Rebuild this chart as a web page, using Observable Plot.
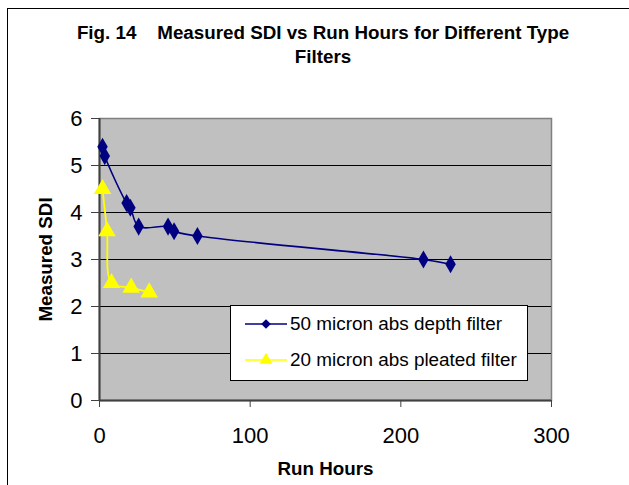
<!DOCTYPE html>
<html>
<head>
<meta charset="utf-8">
<script src="https://cdn.jsdelivr.net/npm/d3@7"></script>
<script src="https://cdn.jsdelivr.net/npm/@observablehq/plot@0.6"></script>
<style>
  body { margin: 0; background: #fff; font-family: "Liberation Sans", Arial, sans-serif; }
  #wrap { position: relative; width: 629px; height: 485px; overflow: hidden; background: #fff; }
  #frame { position: absolute; left: 7px; top: 8px; width: 700px; height: 600px; border-left: 1.5px solid #000; border-top: 1.5px solid #000; box-sizing: border-box; pointer-events: none; }
  #title { position: relative; height: 80px; box-sizing: border-box; padding-top: 21px; padding-left: 17px; text-align: center; font-weight: bold; font-size: 18.8px; line-height: 24px; white-space: pre; color: #000; }
  #legend { position: absolute; left: 230px; top: 305px; width: 298px; height: 76px; box-sizing: border-box; border: 1px solid #000; background: #fff; }
  .row { position: absolute; left: 0; height: 24px; display: flex; align-items: center; font-size: 18.9px; color: #000; white-space: nowrap; }
  .row svg { margin-left: 14px; margin-right: 3px; }
  svg.plot { display: block; }
</style>
</head>
<body>
<div id="wrap">
  <div id="title"></div>
  <div id="chart"></div>
  <div id="legend"></div>
  <div id="frame"></div>
</div>
<script>
const titleLines = ["Fig. 14    Measured SDI vs Run Hours for Different Type", "Filters"];
const xLabel = "Run Hours";
const yLabel = "Measured SDI";
const xTicks = [0, 100, 200, 300];
const yTicks = [0, 1, 2, 3, 4, 5, 6];
const gridValues = [1, 2, 3, 4, 5];

const seriesNames = ["50 micron abs depth filter", "20 micron abs pleated filter"];
const seriesColors = ["#000080", "#FFFF00"];
const seriesSymbols = ["diamond", "triangle"];

const depthHours = [2, 3.5, 18, 20.5, 26, 45.5, 49.5, 65, 215, 233];
const depthSDI   = [5.4, 5.2, 4.2, 4.1, 3.7, 3.7, 3.6, 3.5, 3.0, 2.9];
const pleatedHours = [2, 5, 8, 21, 33];
const pleatedSDI   = [4.5, 3.6, 2.5, 2.4, 2.3];

const depth = depthHours.map((h, i) => ({hours: h, sdi: depthSDI[i]}));
const pleated = pleatedHours.map((h, i) => ({hours: h, sdi: pleatedSDI[i]}));

document.getElementById("title").textContent = titleLines.join("\n");

const chart = Plot.plot({
  width: 629,
  height: 405,
  marginLeft: 99,
  marginRight: 78,
  marginTop: 38,
  marginBottom: 85,
  style: {fontFamily: "Liberation Sans, Arial, sans-serif", background: "transparent", overflow: "visible"},
  x: {domain: [0, 300]},
  y: {domain: [0, 6]},
  marks: [
    Plot.frame({fill: "#C0C0C0", stroke: "#808080", strokeWidth: 1.5}),
    Plot.gridY(gridValues, {stroke: "#000", strokeOpacity: 1, strokeWidth: 1}),
    Plot.ruleX([0], {stroke: "#404040", strokeWidth: 2}),
    Plot.ruleY([0], {stroke: "#404040", strokeWidth: 2}),
    Plot.axisY(yTicks, {tickSize: 8, tickPadding: 9, fontSize: 22, label: null, stroke: "#404040", color: "#000"}),
    Plot.axisX(xTicks, {tickSize: 7, tickPadding: 20, fontSize: 22, label: null, stroke: "#404040", color: "#000"}),
    Plot.line(depth, {x: "hours", y: "sdi", stroke: seriesColors[0], strokeWidth: 1.6, curve: "catmull-rom"}),
    Plot.dot(depth, {x: "hours", y: "sdi", symbol: seriesSymbols[0], fill: seriesColors[0], r: 5.5}),
    Plot.line(pleated, {x: "hours", y: "sdi", stroke: seriesColors[1], strokeWidth: 1.8, curve: "catmull-rom"}),
    Plot.dot(pleated, {x: "hours", y: "sdi", symbol: seriesSymbols[1], fill: seriesColors[1], r: 6.5}),
    Plot.text([yLabel], {frameAnchor: "left", dx: -54, rotate: -90, text: d => d, fontWeight: "bold", fontSize: 18.8, fill: "#000", textAnchor: "middle", lineAnchor: "middle"}),
    Plot.text([xLabel], {frameAnchor: "bottom", dy: 68, text: d => d, fontWeight: "bold", fontSize: 18.8, fill: "#000", textAnchor: "middle", lineAnchor: "middle"})
  ]
});
document.getElementById("chart").appendChild(chart);

// legend
const legend = document.getElementById("legend");
const rowTops = [6, 42];
seriesNames.forEach((name, i) => {
  const row = document.createElement("div");
  row.className = "row";
  row.style.top = rowTops[i] + "px";
  const sw = d3.create("svg").attr("width", 42).attr("height", 24);
  sw.append("line").attr("x1", 0).attr("x2", 42).attr("y1", 12).attr("y2", 12)
    .attr("stroke", seriesColors[i]).attr("stroke-width", 1.5);
  const sym = seriesSymbols[i] === "diamond" ? d3.symbolDiamond2 : d3.symbolTriangle;
  sw.append("path").attr("d", d3.symbol(sym, seriesSymbols[i] === "diamond" ? 60 : 70)())
    .attr("transform", "translate(21,12)").attr("fill", seriesColors[i]);
  row.appendChild(sw.node());
  const t = document.createElement("span");
  t.textContent = name;
  row.appendChild(t);
  legend.appendChild(row);
});
</script>
</body>
</html>
